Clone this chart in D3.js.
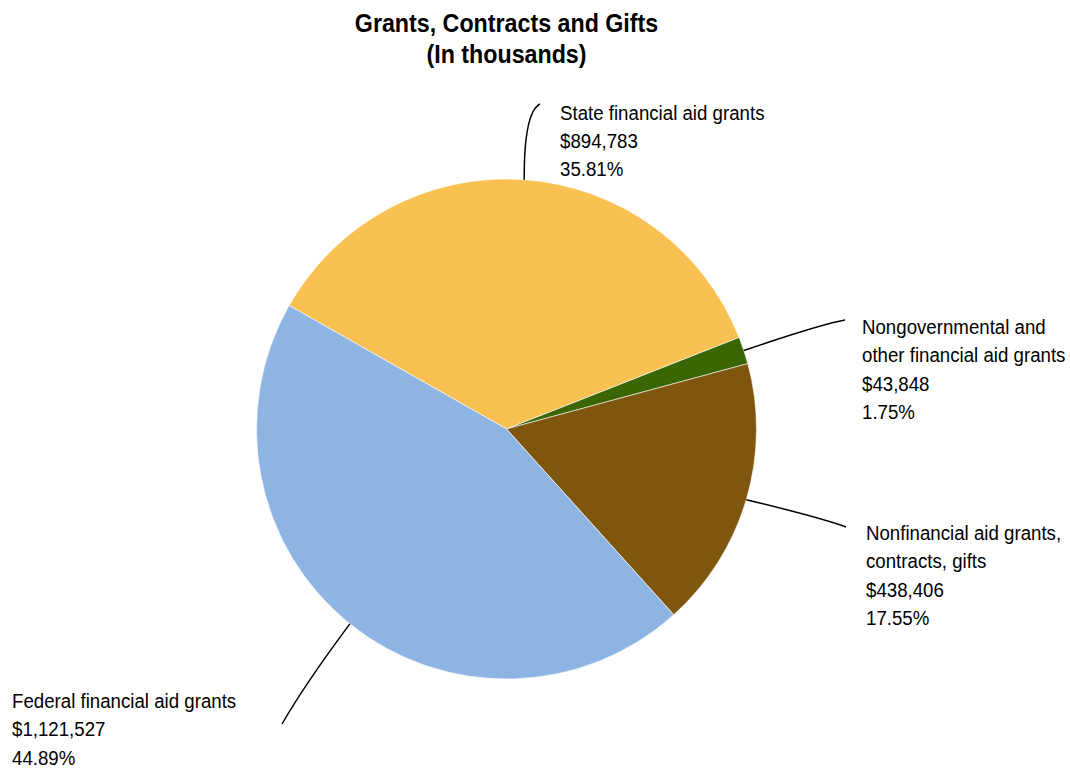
<!DOCTYPE html>
<html>
<head>
<meta charset="utf-8">
<script src="https://cdn.jsdelivr.net/npm/d3@7"></script>
<style>
  html, body { margin: 0; padding: 0; background: #fff; }
  svg { display: block; }
  text { font-family: "Liberation Sans", Arial, sans-serif; fill: #000; }
</style>
</head>
<body>
<svg id="chart" width="1070" height="768"></svg>
<script>
const categories = [
  "State financial aid grants",
  "Nongovernmental and other financial aid grants",
  "Nonfinancial aid grants, contracts, gifts",
  "Federal financial aid grants"
];
const values = [894783, 43848, 438406, 1121527];
const percents = ["35.81%", "1.75%", "17.55%", "44.89%"];
const labelLines = [
  ["State financial aid grants"],
  ["Nongovernmental and", "other financial aid grants"],
  ["Nonfinancial aid grants,", "contracts, gifts"],
  ["Federal financial aid grants"]
];
const colors = ["#F9C152", "#3A6604", "#7F560D", "#8EB4E3"];
const titleLines = ["Grants, Contracts and Gifts", "(In thousands)"];

const svg = d3.select("#chart");
const cx = 506.5, cy = 429, R = 250;
const startDeg = -60.4;
const SX = 0.89;

const data = categories.map((c, i) => ({ name: c, value: values[i], pct: percents[i], lines: labelLines[i], color: colors[i] }));

const pie = d3.pie().value(d => d.value).sort(null)
  .startAngle(startDeg * Math.PI / 180)
  .endAngle((startDeg + 360) * Math.PI / 180);
const arcs = pie(data);
const arc = d3.arc().innerRadius(0).outerRadius(R);

const g = svg.append("g").attr("transform", `translate(${cx},${cy})`);
g.selectAll("path.slice").data(arcs).enter().append("path")
  .attr("class", "slice")
  .attr("d", arc)
  .attr("fill", d => d.data.color)
  .attr("stroke", "#fff")
  .attr("stroke-width", 0.6);

// title
svg.append("g").attr("transform", `translate(${cx},31.5) scale(0.93,1)`)
  .append("text")
  .attr("text-anchor", "middle")
  .style("font-weight", "bold").style("font-size", "25px")
  .selectAll("tspan").data(titleLines).enter().append("tspan")
  .attr("x", 0).attr("dy", (d, i) => i === 0 ? 0 : 31.5)
  .text(d => d);

// labels: anchor position of text block and leader-line end
const labelPos = [
  { x: 560, y: 119.5, ex: 540, ey: 104, qx: 524, qy: 112 },
  { x: 862, y: 334, ex: 845, ey: 320, qx: 822, qy: 324 },
  { x: 866, y: 540, ex: 846, ey: 527, qx: 822, qy: 518 },
  { x: 12, y: 708, ex: 282, ey: 724, qx: 305, qy: 684 }
];

const fmt = d3.format(",");
arcs.forEach((a, i) => {
  const mid = (a.startAngle + a.endAngle) / 2;
  const sx = cx + R * Math.sin(mid);
  const sy = cy - R * Math.cos(mid);
  const p = labelPos[i];
  const path = d3.path();
  path.moveTo(sx, sy);
  path.quadraticCurveTo(p.qx, p.qy, p.ex, p.ey);
  svg.append("path").attr("d", path.toString())
    .attr("fill", "none").attr("stroke", "#000").attr("stroke-width", 1.5);

  const lines = a.data.lines.concat(["$" + fmt(a.data.value), a.data.pct]);
  const t = svg.append("g").attr("transform", `translate(${p.x},${p.y}) scale(${SX},1)`)
    .append("text").style("font-size", "21px");
  t.selectAll("tspan").data(lines).enter().append("tspan")
    .attr("x", 0).attr("dy", (d, j) => j === 0 ? 0 : 28.4)
    .text(d => d);
});
</script>
</body>
</html>
